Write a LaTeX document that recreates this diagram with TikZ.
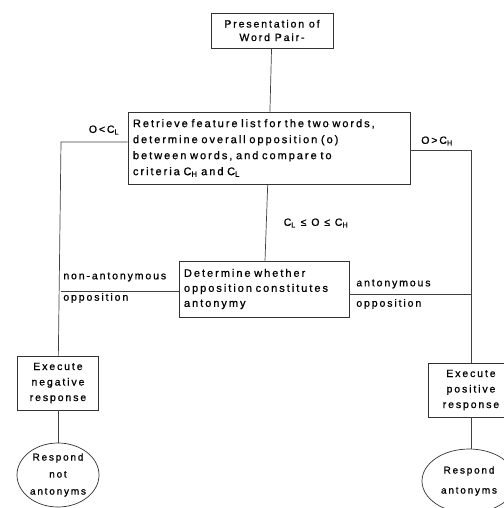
\documentclass[tikz,border=0pt]{standalone}
\usepackage{fontspec}
\usetikzlibrary{shapes.geometric}
\setmainfont{Liberation Sans}
\newfontfamily\leroy{Liberation Sans}[LetterSpace=18,FakeBold=0.9]
\begin{document}
\begin{tikzpicture}[x=1pt,y=-1pt,line width=0.7pt,
    box/.style={draw=black!80,inner xsep=5pt,inner ysep=2pt,font=\fontsize{11}{16}\selectfont\leroy},
    smallbox/.style={box,align=center,minimum width=81pt,minimum height=54pt,font=\fontsize{10.5}{15.5}\selectfont\leroy},
    oval/.style={draw=black!80,ellipse,inner sep=0pt,align=center,minimum height=64pt,font=\fontsize{10}{17}\selectfont\leroy},
    lbl/.style={font=\fontsize{10.5}{12}\selectfont\leroy,inner sep=1pt},
    wire/.style={draw=black!75}]
    \useasboundingbox[fill=white] (0,0) rectangle (503,508);

    % boxes
    \node[box,align=center,minimum width=122pt,minimum height=35pt,font=\fontsize{10.5}{13.5}\selectfont\leroy] (pres) at (272,30.5) {Presentation of\\Word Pair-};
    \node[box,align=left,text width=272pt,minimum height=72pt] (retr) at (269,148)
        {Retrieve feature list for the two words,\\determine overall opposition (o)\\between words, and compare to\\criteria C\textsubscript{H} and C\textsubscript{L}};
    \node[box,align=left,text width=160pt,minimum height=56pt,font=\fontsize{11}{15}\selectfont\leroy] (det) at (264,289)
        {Determine whether\\opposition constitutes\\antonymy};
    \node[smallbox] (neg) at (58,383) {Execute\\negative\\response};
    \node[smallbox,minimum width=86pt] (pos) at (471,390) {Execute\\positive\\response};
    \node[oval,minimum width=82pt] (notant) at (58,475) {Respond\\not\\antonyms};
    \node[oval,minimum width=94pt] (ant) at (469,481) {Respond\\[3pt]antonyms};

    % corners of the side branches
    \coordinate (lt) at (61,142);
    \coordinate (rt) at (471,150);

    \draw[wire] (pres) -- (retr);
    \draw[wire] (retr) -- (det);
    \draw[wire] (retr.west |- lt) -- (lt) -- (neg);
    \draw[wire] (retr.east |- rt) -- (rt) -- (pos);
    \draw[wire] ([yshift=-2pt]det.west) -- ([yshift=-2pt]det.west -| lt);
    \draw[wire] ([yshift=-5pt]det.east) -- ([yshift=-5pt]det.east -| rt);
    \draw[wire] (neg) -- (notant);
    \draw[wire] (pos.south) -- (pos.south |- ant.north);

    % labels
    \node[lbl] (lo) at (104,130) {O<C\textsubscript{L}};
    \node[lbl] (hi) at (437,141) {O>C\textsubscript{H}};
    \node[lbl] (mid) at (316,223) {C\textsubscript{L} ≤ O ≤ C\textsubscript{H}};
    \node[lbl,anchor=west] (nonant) at (62,277) {non-antonymous};
    \node[lbl,anchor=west] (nonopp) at (62,298) {opposition};
    \node[lbl,anchor=west] (antant) at (355,284) {antonymous};
    \node[lbl,anchor=west] (antopp) at (355,304) {opposition};
\end{tikzpicture}
\end{document}
